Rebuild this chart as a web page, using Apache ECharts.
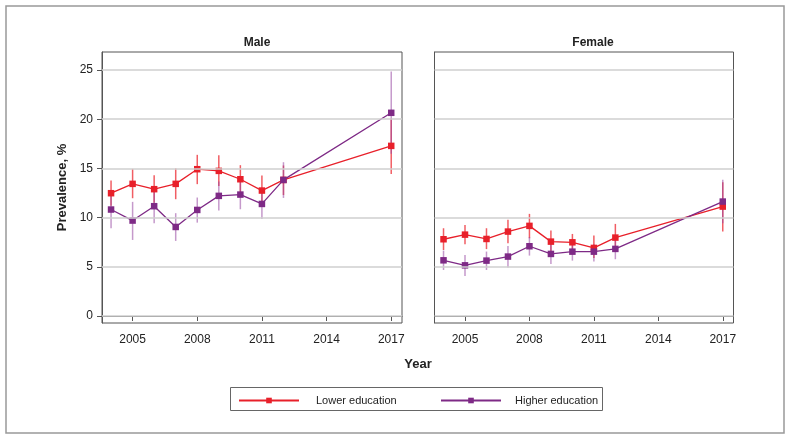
<!DOCTYPE html>
<html>
<head>
<meta charset="utf-8">
<script src="https://cdn.jsdelivr.net/npm/echarts@6/dist/echarts.min.js"></script>
<style>
html,body{margin:0;padding:0;background:#fff;}
#chart{width:791px;height:441px;}
</style>
</head>
<body>
<div id="chart"></div>
<script>
const years = [2004, 2005, 2006, 2007, 2008, 2009, 2010, 2011, 2012, 2017];
const xTicks = [2005, 2008, 2011, 2014, 2017];
const yTicks = [0, 5, 10, 15, 20, 25];
const panelTitles = ['Male', 'Female'];
const seriesNames = ['Lower education', 'Higher education'];

const maleLower   = [12.48, 13.43, 12.89, 13.43, 14.92, 14.75, 13.90, 12.75, 13.83, 17.29];
const maleLowerLo = [11.20, 11.97, 11.50, 11.87, 13.40, 13.20, 12.40, 11.25, 12.30, 14.44];
const maleLowerHi = [13.77, 14.95, 14.31, 15.00, 16.38, 16.34, 15.33, 14.27, 15.30, 20.10];
const maleHigher   = [10.82, 9.70, 11.16, 9.05, 10.78, 12.21, 12.34, 11.39, 13.83, 20.65];
const maleHigherLo = [8.92, 7.73, 9.43, 7.63, 9.49, 10.72, 10.85, 9.87, 12.00, 16.50];
const maleHigherHi = [12.40, 11.60, 12.60, 10.45, 12.04, 13.66, 13.77, 12.88, 15.63, 24.86];

const femaleLower   = [7.80, 8.27, 7.83, 8.58, 9.16, 7.56, 7.49, 6.92, 7.97, 11.12];
const femaleLowerLo = [6.71, 7.29, 6.80, 7.39, 7.90, 6.50, 6.70, 5.90, 6.70, 8.58];
const femaleLowerHi = [8.92, 9.26, 8.92, 9.77, 10.38, 8.68, 8.34, 8.17, 9.36, 13.60];
const femaleHigher   = [5.66, 5.15, 5.63, 6.04, 7.09, 6.31, 6.54, 6.54, 6.82, 11.63];
const femaleHigherLo = [4.68, 4.07, 4.68, 4.92, 6.14, 5.29, 5.63, 5.53, 5.77, 9.43];
const femaleHigherHi = [6.65, 6.20, 6.55, 7.12, 8.03, 7.46, 7.46, 7.29, 7.90, 13.84];

const RED = '#e8202a', PURPLE = '#7e2a86';
const RED_CI = 'rgba(236,40,48,0.75)', PURPLE_CI = 'rgba(150,70,160,0.55)';
const FONT = '"Liberation Sans", Arial, Helvetica, sans-serif';

function pts(v) { return years.map((y, i) => [y, v[i]]); }
function ci(lo, hi) { return years.map((y, i) => [y, lo[i], hi[i]]); }

function ciSeries(idx, lo, hi, color) {
  return {
    type: 'custom', xAxisIndex: idx, yAxisIndex: idx, z: 2, silent: true,
    data: ci(lo, hi), encode: { x: 0, y: [1, 2] },
    renderItem: function (params, api) {
      const x = api.value(0);
      const p1 = api.coord([x, api.value(1)]);
      const p2 = api.coord([x, api.value(2)]);
      return { type: 'line', shape: { x1: p1[0], y1: p1[1], x2: p2[0], y2: p2[1] },
               style: { stroke: color, lineWidth: 1.5 } };
    }
  };
}
function lineSeries(idx, name, v, color) {
  return {
    type: 'line', name: name, xAxisIndex: idx, yAxisIndex: idx, z: 4,
    data: pts(v), symbol: 'rect', symbolSize: 6.5, showSymbol: true,
    lineStyle: { color: color, width: 1.3 }, itemStyle: { color: color },
    animation: false, silent: true
  };
}
function gridSeries(idx) {
  return {
    type: 'line', xAxisIndex: idx, yAxisIndex: idx, data: [], z: 1, silent: true,
    markLine: {
      silent: true, symbol: 'none', animation: false,
      label: { show: false },
      lineStyle: { color: '#cfcfcf', width: 1.5, type: 'solid' },
      data: yTicks.map(t => ({ yAxis: t }))
    }
  };
}
function xAxis(idx) {
  return {
    type: 'value', gridIndex: idx, min: 2003.58, max: 2017.5,
    axisLine: { show: true, lineStyle: { color: '#555', width: 1 } },
    axisTick: { show: true, length: 5, customValues: xTicks, lineStyle: { color: '#555' } },
    axisLabel: { customValues: xTicks, formatter: v => String(v), color: '#222', fontSize: 12, fontFamily: FONT, margin: 11 },
    splitLine: { show: false }
  };
}
function yAxis(idx, labels) {
  return {
    type: 'value', gridIndex: idx, min: -0.71, max: 26.83,
    name: labels ? 'Prevalence, %' : '', nameLocation: 'middle', nameGap: 33, nameRotate: 90,
    nameTextStyle: { fontWeight: 'bold', fontSize: 13, color: '#222', fontFamily: FONT },
    axisLine: { show: true, lineStyle: { color: '#555', width: 1 } },
    axisTick: { show: labels, length: 5, customValues: yTicks, lineStyle: { color: '#555' } },
    axisLabel: { show: labels, customValues: yTicks, color: '#222', fontSize: 12, fontFamily: FONT, margin: 9 },
    splitLine: { show: false }
  };
}

const option = {
  backgroundColor: '#fff',
  animation: false,
  grid: [
    { left: 102, top: 52, width: 300, height: 271, show: true, borderColor: '#555', borderWidth: 1, backgroundColor: 'transparent' },
    { left: 434.5, top: 52, width: 299, height: 271, show: true, borderColor: '#555', borderWidth: 1, backgroundColor: 'transparent' }
  ],
  title: [
    { text: panelTitles[0], left: 252, top: 32, textAlign: 'center', textStyle: { fontSize: 12, fontWeight: 'bold', color: '#222', fontFamily: FONT } },
    { text: panelTitles[1], left: 588, top: 32, textAlign: 'center', textStyle: { fontSize: 12, fontWeight: 'bold', color: '#222', fontFamily: FONT } }
  ],
  xAxis: [xAxis(0), xAxis(1)],
  yAxis: [yAxis(0, true), yAxis(1, false)],
  legend: [
    { data: [seriesNames[0]], left: 238, top: 395, padding: 0, itemWidth: 60, itemHeight: 7, selectedMode: false,
      textStyle: { fontSize: 11, color: '#222', fontFamily: FONT, padding: [0, 0, 0, 12] } },
    { data: [seriesNames[1]], left: 440, top: 395, padding: 0, itemWidth: 60, itemHeight: 7, selectedMode: false,
      textStyle: { fontSize: 11, color: '#222', fontFamily: FONT, padding: [0, 0, 0, 9] } }
  ],
  graphic: [
    { type: 'rect', shape: { x: 6, y: 6, width: 778, height: 427 }, style: { fill: 'none', stroke: '#999', lineWidth: 1.5 }, z: -1 },
    { type: 'rect', shape: { x: 230.5, y: 387.5, width: 372, height: 23 }, style: { fill: 'none', stroke: '#666', lineWidth: 1 } },
    { type: 'text', x: 418, y: 364, style: { text: 'Year', fill: '#222', font: 'bold 13px ' + FONT, textAlign: 'center', textVerticalAlign: 'middle' } }
  ],
  series: [
    gridSeries(0), gridSeries(1),
    ciSeries(0, maleLowerLo, maleLowerHi, RED_CI),
    ciSeries(0, maleHigherLo, maleHigherHi, PURPLE_CI),
    ciSeries(1, femaleLowerLo, femaleLowerHi, RED_CI),
    ciSeries(1, femaleHigherLo, femaleHigherHi, PURPLE_CI),
    lineSeries(0, seriesNames[0], maleLower, RED),
    lineSeries(0, seriesNames[1], maleHigher, PURPLE),
    lineSeries(1, seriesNames[0], femaleLower, RED),
    lineSeries(1, seriesNames[1], femaleHigher, PURPLE)
  ]
};
const chart = echarts.init(document.getElementById('chart'), null, { renderer: 'canvas' });
chart.setOption(option);
</script>
</body>
</html>
